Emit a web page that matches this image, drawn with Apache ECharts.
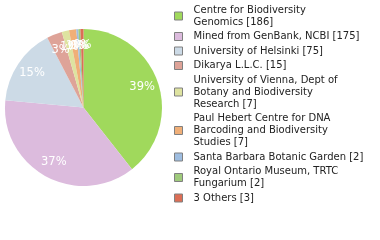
<!DOCTYPE html>
<html><head><meta charset="utf-8">
<script src="https://cdn.jsdelivr.net/npm/echarts@6/dist/echarts.min.js"></script>
<style>html,body{margin:0;padding:0;background:#fff}#c{width:380px;height:240px}</style>
</head><body><div id="c"></div>
<script>
var names = ['Centre for Biodiversity\nGenomics', 'Mined from GenBank, NCBI', 'University of Helsinki', 'Dikarya L.L.C.', 'University of Vienna, Dept of\nBotany and Biodiversity\nResearch', 'Paul Hebert Centre for DNA\nBarcoding and Biodiversity\nStudies', 'Santa Barbara Botanic Garden', 'Royal Ontario Museum, TRTC\nFungarium', '3 Others'];
var values = [186, 175, 75, 15, 7, 7, 2, 2, 3];
var colors = ['#a0d95c', '#dcbbdd', '#ccdae6', '#dea398', '#dee3a0', '#f0af78', '#9ebde0', '#9fca7c', '#dc6e55'];

var data = names.map(function (n, i) { return { name: n, value: values[i], itemStyle: { color: colors[i] } }; });
var labelData = names.map(function (n, i) { return { name: n, value: values[i] }; });
var total = values.reduce(function (a, b) { return a + b; }, 0);

var chart = echarts.init(document.getElementById('c'), null, { renderer: 'canvas' });
chart.setOption({
  animation: false,
  legend: {
    orient: 'vertical', left: 174, top: 4, padding: 0,
    itemWidth: 8, itemHeight: 8, itemGap: 2.5,
    icon: 'rect',
    itemStyle: { borderColor: '#808080', borderWidth: 1 },
    textStyle: { fontFamily: 'DejaVu Sans', fontSize: 10, color: '#222', lineHeight: 12, padding: [0, 0, 0, 6] },
    formatter: function (n) { return n + ' [' + values[names.indexOf(n)] + ']'; },
    data: names
  },
  series: [{
    type: 'pie', center: [83.5, 107.5], radius: [0, 78.5],
    startAngle: 90, clockwise: true, silent: true,
    itemStyle: { borderWidth: 0 },
    label: { show: false }, labelLine: { show: false },
    data: data
  }, {
    type: 'pie', center: [83.5, 107.5], radius: [38, 80],
    startAngle: 90, clockwise: true, silent: true, legendHoverLink: false,
    avoidLabelOverlap: false, minShowLabelAngle: 0,
    itemStyle: { color: 'rgba(0,0,0,0)' },
    label: {
      show: true, position: 'inside', color: '#fff', fontFamily: 'DejaVu Sans', fontSize: 11.5,
      overflow: 'none', width: null,
      formatter: function (p) { return Math.floor(p.value / total * 100) + '%'; }
    },
    labelLayout: { hideOverlap: false },
    labelLine: { show: false },
    data: labelData
  }]
});
</script></body></html>
